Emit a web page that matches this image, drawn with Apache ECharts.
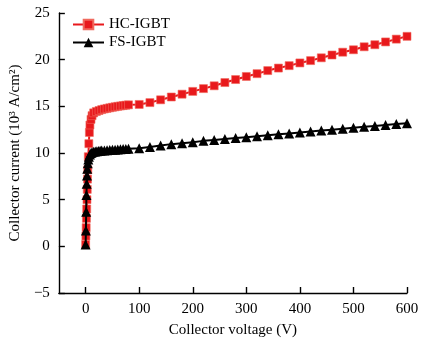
<!DOCTYPE html>
<html>
<head>
<meta charset="utf-8">
<script src="https://cdn.jsdelivr.net/npm/echarts@6/dist/echarts.min.js"></script>
<style>
  html, body { margin: 0; padding: 0; background: #fff; }
  #chart { width: 426px; height: 343px; }
</style>
</head>
<body>
<div id="chart"></div>
<script>
// Output characteristics of the two IGBT structures
const hcVoltage = [0, 0.5, 1, 1.5, 2, 2.5, 3, 3.5, 4, 5, 6, 7, 8, 10, 12, 15, 20, 25, 30, 35, 40, 45, 50, 55, 60, 65, 70, 75, 80,
  100, 120, 140, 160, 180, 200, 220, 240, 260, 280, 300, 320, 340, 360, 380, 400, 420, 440, 460, 480, 500, 520, 540, 560, 580, 600];
const hcCurrent = [0.2, 1.1, 2.0, 3.0, 4.0, 5.0, 6.1, 7.2, 8.2, 9.6, 11.0, 12.2, 13.0, 13.6, 14.0, 14.3, 14.45, 14.55, 14.65, 14.72, 14.78, 14.84, 14.9, 14.95, 15.0, 15.04, 15.08, 15.12, 15.16,
  15.2, 15.4, 15.7, 16.0, 16.3, 16.6, 16.9, 17.2, 17.55, 17.87, 18.2, 18.5, 18.83, 19.1, 19.36, 19.65, 19.9, 20.2, 20.5, 20.8, 21.06, 21.38, 21.6, 21.9, 22.2, 22.5];

const fsVoltage = [0, 0.5, 1, 1.5, 2, 2.5, 3, 4, 5, 6, 8, 10, 12, 15, 18, 21, 24, 27, 30, 35, 40, 45, 50, 55, 60, 65, 70, 75, 80,
  100, 120, 140, 160, 180, 200, 220, 240, 260, 280, 300, 320, 340, 360, 380, 400, 420, 440, 460, 480, 500, 520, 540, 560, 580, 600];
const fsCurrent = [0.2, 1.7, 3.7, 5.5, 6.7, 7.6, 8.3, 8.9, 9.3, 9.6, 9.85, 10.0, 10.08, 10.13, 10.17, 10.2, 10.22, 10.24, 10.26, 10.28, 10.3, 10.32, 10.34, 10.36, 10.38, 10.4, 10.42, 10.44, 10.46,
  10.5, 10.65, 10.8, 10.95, 11.05, 11.15, 11.3, 11.4, 11.5, 11.6, 11.7, 11.8, 11.9, 12.0, 12.1, 12.2, 12.3, 12.4, 12.5, 12.6, 12.7, 12.8, 12.9, 13.0, 13.1, 13.2];

const xTicks = [0, 100, 200, 300, 400, 500, 600];
const seriesNames = ['HC-IGBT', 'FS-IGBT'];

const serif = '"Liberation Serif", "DejaVu Serif", serif';
const pairs = (xs, ys) => xs.map((x, i) => [x, ys[i]]);

const chart = echarts.init(document.getElementById('chart'), null, { renderer: 'canvas' });
chart.setOption({
  animation: false,
  backgroundColor: '#fff',
  grid: { left: 57, right: 19, top: 13, bottom: 48, containLabel: false },
  legend: {
    orient: 'vertical',
    left: 72,
    top: 17,
    padding: 0,
    itemWidth: 31,
    itemHeight: 12,
    itemGap: 3,
    textStyle: { fontFamily: serif, fontSize: 15, color: '#000' },
    data: seriesNames
  },
  xAxis: {
    type: 'value',
    min: -50,
    max: 600,
    name: 'Collector voltage (V)',
    nameLocation: 'middle',
    nameGap: 30,
    nameTextStyle: { fontFamily: serif, fontSize: 15, color: '#000' },
    axisLine: { show: true, onZero: false, lineStyle: { color: '#000', width: 1.4 } },
    axisTick: { show: true, inside: true, length: 6, customValues: xTicks, lineStyle: { color: '#000', width: 1.4 } },
    axisLabel: { customValues: xTicks, margin: 9, fontFamily: serif, fontSize: 15, color: '#000' },
    splitLine: { show: false }
  },
  yAxis: {
    type: 'value',
    min: -5,
    max: 25,
    interval: 5,
    name: 'Collector current (10\u00B3 A/cm\u00B2)',
    nameLocation: 'middle',
    nameGap: 34,
    nameTextStyle: { fontFamily: serif, fontSize: 15, color: '#000' },
    axisLine: { show: true, onZero: false, lineStyle: { color: '#000', width: 1.4 } },
    axisTick: { show: true, inside: true, length: 6, lineStyle: { color: '#000', width: 1.4 } },
    axisLabel: {
      margin: 9, fontFamily: serif, fontSize: 15, color: '#000',
      formatter: v => String(v).replace('-', '\u2212')
    },
    splitLine: { show: false }
  },
  series: [
    {
      name: seriesNames[0],
      type: 'line',
      data: pairs(hcVoltage, hcCurrent),
      symbol: 'rect',
      symbolSize: 8,
      showAllSymbol: true,
      color: '#e8191c',
      lineStyle: { color: '#e8191c', width: 2 },
      itemStyle: { color: '#e8191c', borderColor: '#f06a5e', borderWidth: 0.6 },
      z: 2
    },
    {
      name: seriesNames[1],
      type: 'line',
      data: pairs(fsVoltage, fsCurrent),
      symbol: 'triangle',
      symbolSize: 10,
      showAllSymbol: true,
      color: '#000',
      lineStyle: { color: '#000', width: 2 },
      itemStyle: { color: '#000' },
      z: 3
    }
  ]
});
</script>
</body>
</html>
